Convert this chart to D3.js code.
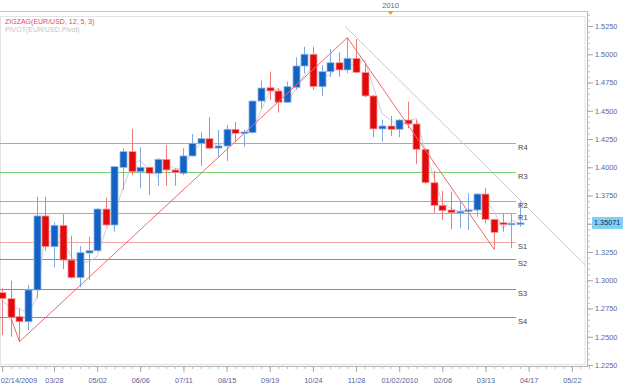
<!DOCTYPE html>
<html>
<head>
<meta charset="utf-8">
<script src="https://cdn.jsdelivr.net/npm/d3@7"></script>
<style>
  html, body { margin: 0; padding: 0; background: #fff; }
  svg { display: block; font-family: "Liberation Sans", Arial, sans-serif; }
</style>
</head>
<body>
<svg id="chart" width="625" height="387"></svg>
<script>
// weekly EUR/USD candles, first week 02/14/2009
const firstWeek = '2009-02-14';

const opens = [1.2890, 1.2837, 1.2678, 1.2633, 1.2914, 1.3569, 1.3297, 1.3486, 1.3179, 1.3023,
  1.3241, 1.3261, 1.3630, 1.3489, 1.3999, 1.4138, 1.3961, 1.4000, 1.3947, 1.4070,
  1.3976, 1.3947, 1.4100, 1.4212, 1.4253, 1.4170, 1.4188, 1.4336, 1.4300, 1.4306,
  1.4586, 1.4704, 1.4675, 1.4575, 1.4707, 1.4896, 1.5000, 1.4713, 1.4846, 1.4925,
  1.4861, 1.4964, 1.4840, 1.4631, 1.4339, 1.4365, 1.4336, 1.4418, 1.4383, 1.4159,
  1.3863, 1.3663, 1.3622, 1.3595, 1.3610, 1.3622, 1.3763, 1.3539, 1.3509, 1.3495,
  1.3504];
const highs = [1.2929, 1.2996, 1.2750, 1.2958, 1.3739, 1.3739, 1.3513, 1.3584, 1.3394, 1.3303,
  1.3385, 1.3640, 1.3731, 1.4010, 1.4168, 1.4339, 1.4177, 1.4005, 1.4080, 1.4197,
  1.3990, 1.4168, 1.4294, 1.4309, 1.4442, 1.4330, 1.4374, 1.4403, 1.4330, 1.4590,
  1.4766, 1.4846, 1.4700, 1.4757, 1.4973, 1.5067, 1.5067, 1.4905, 1.5046, 1.5017,
  1.5147, 1.5135, 1.4914, 1.4640, 1.4420, 1.4454, 1.4425, 1.4580, 1.4420, 1.4165,
  1.3970, 1.3790, 1.3784, 1.3695, 1.3770, 1.3770, 1.3819, 1.3545, 1.3592, 1.3592,
  1.3695];
const lows = [1.2515, 1.2500, 1.2456, 1.2560, 1.2840, 1.3261, 1.3115, 1.3097, 1.3015, 1.2938,
  1.3002, 1.3255, 1.3480, 1.3430, 1.3799, 1.3931, 1.3814, 1.3754, 1.3834, 1.3834,
  1.3837, 1.3931, 1.4095, 1.4011, 1.4160, 1.4088, 1.4055, 1.4221, 1.4182, 1.4300,
  1.4522, 1.4595, 1.4483, 1.4570, 1.4684, 1.4831, 1.4684, 1.4631, 1.4801, 1.4801,
  1.4831, 1.4830, 1.4620, 1.4265, 1.4226, 1.4277, 1.4265, 1.4345, 1.4029, 1.3855,
  1.3598, 1.3533, 1.3451, 1.3460, 1.3445, 1.3563, 1.3504, 1.3274, 1.3430, 1.3283,
  1.3474];
const closes = [1.2837, 1.2672, 1.2633, 1.2914, 1.3569, 1.3297, 1.3486, 1.3179, 1.3023, 1.3244,
  1.3261, 1.3630, 1.3489, 1.4005, 1.4138, 1.3961, 1.4000, 1.3947, 1.4070, 1.3976,
  1.3952, 1.4100, 1.4212, 1.4253, 1.4168, 1.4188, 1.4336, 1.4300, 1.4312, 1.4586,
  1.4701, 1.4675, 1.4575, 1.4713, 1.4896, 1.5000, 1.4713, 1.4846, 1.4925, 1.4861,
  1.4964, 1.4840, 1.4631, 1.4339, 1.4365, 1.4336, 1.4418, 1.4383, 1.4159, 1.3863,
  1.3663, 1.3616, 1.3598, 1.3610, 1.3622, 1.3763, 1.3539, 1.3424, 1.3492, 1.3504,
  1.35071];

// light grey pivot line through the candles
const pivotLine = [1.2820, 1.2752, 1.2752, 1.2700, 1.2843, 1.3418, 1.3443, 1.3356, 1.3209, 1.3152,
  1.3164, 1.3209, 1.3445, 1.3595, 1.3816, 1.4020, 1.4064, 1.3976, 1.3917, 1.4035,
  1.3985, 1.4000, 1.4138, 1.4205, 1.4232, 1.4190, 1.4232, 1.4315, 1.4300, 1.4315,
  1.4507, 1.4669, 1.4699, 1.4580, 1.4684, 1.4816, 1.4890, 1.4801, 1.4816, 1.4905,
  1.4890, 1.4920, 1.4949, 1.4713, 1.4477, 1.4418, 1.4359, 1.4406, 1.4433, 1.4153,
  1.3917, 1.3681, 1.3637, 1.3607, 1.3622, 1.3622, 1.3725, 1.3607, 1.3460, 1.3533,
  1.3504];

// zigzag turning points (candle index, price)
const zigzagIdx = [1, 2, 40, 57];
const zigzagVal = [1.2672, 1.2456, 1.5147, 1.3274];

// pivot levels
const levelNames = ['R4', 'R3', 'R2', 'R1', 'S1', 'S2', 'S3', 'S4'];
const levelValues = [1.4212, 1.3955, 1.3699, 1.3592, 1.3341, 1.3185, 1.2925, 1.2672];

// grey trend line
const trendDates = ['2009-11-19', '2010-06-02'];
const trendValues = [1.5250, 1.3135];

const xTickDates = ['2009-02-14', '2009-03-28', '2009-05-02', '2009-06-06', '2009-07-11',
  '2009-08-15', '2009-09-19', '2009-10-24', '2009-11-28', '2010-01-02', '2010-02-06',
  '2010-03-13', '2010-04-17', '2010-05-22'];
const xTickLabels = ['02/14/2009', '03/28', '05/02', '06/06', '07/11', '08/15', '09/19',
  '10/24', '11/28', '01/02/2010', '02/06', '03/13', '04/17', '05/22'];
const yTickValues = [1.2250, 1.2500, 1.2750, 1.3000, 1.3250, 1.3500, 1.3750, 1.4000,
  1.4250, 1.4500, 1.4750, 1.5000, 1.5250];
const lastPrice = '1.35071';
const yearMark = { date: '2009-12-26', label: '2010' };

const legend = [
  { text: 'ZIGZAG(EUR/USD, 12, 5, 3)', color: '#e84a4a' },
  { text: 'PIVOT(EUR/USD,Pivot)', color: '#c4c4c4' }
];

const parse = d3.utcParse('%Y-%m-%d');
const start = parse(firstWeek);
const candles = opens.map((o, i) => ({
  date: d3.utcDay.offset(start, 7 * i),
  open: o, high: highs[i], low: lows[i], close: closes[i]
}));

const plotRight = 585, plotTop = 16, plotBottom = 364, axisX = 587, axisY = 366;

const svg = d3.select('#chart');

const x = d3.scaleUtc()
  .domain([parse('2009-02-14'), parse('2010-05-22')])
  .range([2.2, 571.8]);
const y = d3.scaleLinear()
  .domain([1.2250, 1.5250])
  .range([365, 26]);

svg.append('defs').append('clipPath').attr('id', 'plot')
  .append('rect').attr('x', 0).attr('y', plotTop)
  .attr('width', plotRight).attr('height', plotBottom - plotTop);

// frame
svg.append('rect')
  .attr('x', 0.5).attr('y', plotTop + 0.5)
  .attr('width', plotRight - 0.5).attr('height', plotBottom - plotTop)
  .attr('fill', '#fff').attr('stroke', '#e2e2e2');

const plot = svg.append('g').attr('clip-path', 'url(#plot)');

// pivot levels
const levelColor = n => n[0] === 'R' ? '#74d070' : (n === 'S1' ? '#f4a8a8' : '#e06a6a');
plot.selectAll('.level')
  .data(levelNames)
  .enter()
  .append('line')
  .attr('x1', 0).attr('x2', 516)
  .attr('y1', (d, i) => Math.round(y(levelValues[i])) + 0.5)
  .attr('y2', (d, i) => Math.round(y(levelValues[i])) + 0.5)
  .attr('stroke', levelColor).attr('stroke-width', 1);

svg.selectAll('.levelLabel')
  .data(levelNames)
  .enter()
  .append('text')
  .attr('x', 518)
  .attr('y', (d, i) => y(levelValues[i]) + 7)
  .attr('font-size', 7.5).attr('fill', '#444')
  .text(d => d);

// grey trend line
plot.append('line')
  .attr('x1', x(parse(trendDates[0]))).attr('y1', y(trendValues[0]))
  .attr('x2', x(parse(trendDates[1]))).attr('y2', y(trendValues[1]))
  .attr('stroke', '#b8bccc').attr('stroke-width', 0.8);

// pivot line
plot.append('path')
  .datum(pivotLine)
  .attr('d', d3.line().x((d, i) => x(candles[i].date)).y(d => y(d)))
  .attr('fill', 'none').attr('stroke', '#cfd0d8').attr('stroke-width', 1);

// candles
const up = d => d.close >= d.open;
const bw = 7;
plot.selectAll('.wick')
  .data(candles)
  .enter()
  .append('line')
  .attr('x1', d => Math.round(x(d.date)) + 0.5)
  .attr('x2', d => Math.round(x(d.date)) + 0.5)
  .attr('y1', d => y(d.high)).attr('y2', d => y(d.low))
  .attr('stroke', d => up(d) ? '#7ea8e0' : '#f07878').attr('stroke-width', 1);

plot.selectAll('.body')
  .data(candles)
  .enter()
  .append('rect')
  .attr('x', d => Math.round(x(d.date)) + 0.5 - bw / 2)
  .attr('y', d => y(Math.max(d.open, d.close)))
  .attr('width', bw)
  .attr('height', d => Math.max(1.5, Math.abs(y(d.open) - y(d.close))))
  .attr('fill', d => up(d) ? '#1463c2' : '#e20a0a')
  .attr('stroke', d => up(d) ? '#8db6e8' : '#f39a9a').attr('stroke-width', 0.8);

// zigzag
plot.append('path')
  .datum(zigzagIdx)
  .attr('d', d3.line().x(d => x(candles[d].date)).y((d, i) => y(zigzagVal[i])))
  .attr('fill', 'none').attr('stroke', '#f06a6a').attr('stroke-width', 1);

// top axis
svg.append('line')
  .attr('x1', 0).attr('x2', axisX).attr('y1', 11.5).attr('y2', 11.5)
  .attr('stroke', '#c4c4c4');
svg.append('text')
  .attr('x', x(parse(yearMark.date))).attr('y', 8)
  .attr('text-anchor', 'middle').attr('font-size', 7.5).attr('fill', '#5a6495')
  .text(yearMark.label);
const ym = x(parse(yearMark.date));
svg.append('path')
  .attr('d', `M${ym - 3},11 L${ym + 3},11 L${ym},15 Z`)
  .attr('fill', '#f0a020');

// right axis
const ly = y(closes[closes.length - 1]);
const yAxis = svg.append('g').attr('transform', `translate(${axisX},0)`);
yAxis.append('line').attr('x1', 0.5).attr('x2', 0.5).attr('y1', 11).attr('y2', axisY + 1)
  .attr('stroke', '#b4b4b4');
yAxis.append('g')
  .call(d3.axisRight(y).tickValues(d3.range(1.2250, 1.5351, 0.005)).tickSize(3).tickFormat(''))
  .call(g => g.select('.domain').remove())
  .call(g => g.selectAll('line').attr('stroke', '#c0c0c0'));
yAxis.append('g')
  .call(d3.axisRight(y).tickValues(yTickValues).tickSize(6).tickPadding(2).tickFormat(d3.format('.4f')))
  .call(g => g.select('.domain').remove())
  .call(g => g.selectAll('line').attr('stroke', '#a8a8a8'))
  .call(g => g.selectAll('text').attr('font-size', 7.3).attr('fill', '#5a6495')
    .attr('font-family', '"Liberation Sans", Arial, sans-serif'))
  // the label hidden under the last-price box
  .call(g => g.selectAll('.tick').filter(d => Math.abs(y(d) - ly) < 9).select('text').remove());

// last price box
svg.append('rect')
  .attr('x', 592).attr('y', ly - 6).attr('width', 31).attr('height', 12)
  .attr('fill', '#7fd0f6');
svg.append('text')
  .attr('x', 594).attr('y', ly + 2.5)
  .attr('font-size', 7.3).attr('fill', '#1a2a5a')
  .text(lastPrice);

// bottom axis
const xAxis = svg.append('g').attr('transform', `translate(0,${axisY})`);
xAxis.append('line').attr('x1', 0).attr('x2', axisX + 1).attr('y1', 0.5).attr('y2', 0.5)
  .attr('stroke', '#b4b4b4');
xAxis.append('g')
  .call(d3.axisBottom(x).tickValues(d3.range(-1, 69).map(w => d3.utcDay.offset(start, 7 * w)))
    .tickSize(3).tickFormat(''))
  .call(g => g.select('.domain').remove())
  .call(g => g.selectAll('line').attr('stroke', '#c0c0c0'));
xAxis.append('g')
  .call(d3.axisBottom(x).tickValues(xTickDates.map(parse)).tickSize(6).tickPadding(6)
    .tickFormat((d, i) => xTickLabels[i]))
  .call(g => g.select('.domain').remove())
  .call(g => g.selectAll('line').attr('stroke', '#a8a8a8'))
  .call(g => g.selectAll('text').attr('font-size', 7.3).attr('fill', '#5a6495')
    .attr('font-family', '"Liberation Sans", Arial, sans-serif'))
  .call(g => g.select('.tick text').attr('text-anchor', 'start').attr('x', -2));

// legend
svg.selectAll('.legend')
  .data(legend)
  .enter()
  .append('text')
  .attr('x', 5).attr('y', (d, i) => 24 + i * 8)
  .attr('font-size', 7).attr('fill', d => d.color)
  .text(d => d.text);
</script>
</body>
</html>
